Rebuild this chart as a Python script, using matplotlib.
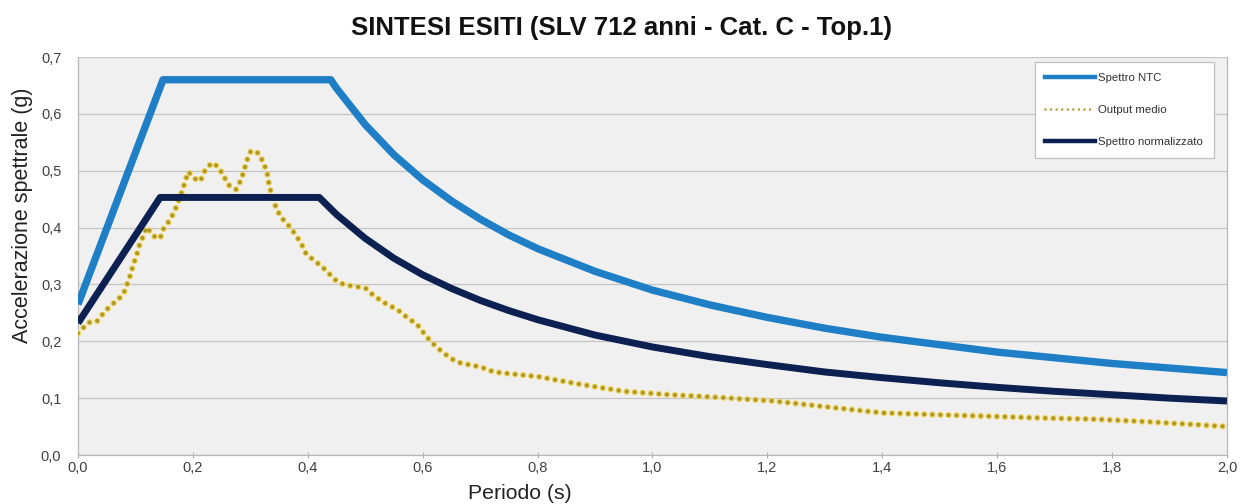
import matplotlib
matplotlib.use('Agg')
import matplotlib.pyplot as plt
from matplotlib.lines import Line2D
from matplotlib.ticker import FuncFormatter

# Spettro NTC (periodo s, accelerazione g)
ntc_t = [0.0, 0.148, 0.44, 0.45, 0.5, 0.55, 0.6, 0.65, 0.7, 0.75, 0.8, 0.9, 1.0,
         1.1, 1.2, 1.3, 1.4, 1.5, 1.6, 1.7, 1.8, 1.9, 2.0]
ntc_sa = [0.265, 0.66, 0.66, 0.645, 0.581, 0.528, 0.484, 0.447, 0.415, 0.387, 0.363,
          0.323, 0.290, 0.264, 0.242, 0.223, 0.207, 0.194, 0.181, 0.171, 0.161, 0.153, 0.145]

# Spettro normalizzato
norm_t = [0.0, 0.143, 0.42, 0.45, 0.5, 0.55, 0.6, 0.65, 0.7, 0.75, 0.8, 0.9, 1.0,
          1.1, 1.2, 1.3, 1.4, 1.5, 1.6, 1.7, 1.8, 1.9, 2.0]
norm_sa = [0.232, 0.453, 0.453, 0.423, 0.381, 0.346, 0.317, 0.293, 0.272, 0.254, 0.238,
           0.211, 0.190, 0.173, 0.159, 0.146, 0.136, 0.127, 0.119, 0.112, 0.106, 0.100, 0.095]

# Output medio
out_t = [0.0, 0.018, 0.033, 0.044, 0.056, 0.067, 0.079, 0.085, 0.091, 0.096, 0.102,
         0.107, 0.120, 0.131, 0.143, 0.149, 0.160, 0.169, 0.181, 0.186, 0.192, 0.207,
         0.213, 0.221, 0.233, 0.244, 0.253, 0.262, 0.275, 0.283, 0.289, 0.294, 0.301,
         0.314, 0.322, 0.329, 0.332, 0.336, 0.346, 0.358, 0.369, 0.381, 0.390, 0.397,
         0.410, 0.425, 0.438, 0.451, 0.465, 0.486, 0.501, 0.514, 0.531, 0.546, 0.561,
         0.575, 0.590, 0.600, 0.612, 0.625, 0.638, 0.654, 0.668, 0.686, 0.703, 0.724,
         0.76, 0.80, 0.87, 0.95, 1.03, 1.12, 1.21, 1.30, 1.40, 1.49, 1.59, 1.68, 1.77,
         1.87, 2.0]
out_sa = [0.214, 0.233, 0.235, 0.249, 0.262, 0.271, 0.283, 0.299, 0.316, 0.334, 0.351,
          0.369, 0.401, 0.385, 0.381, 0.398, 0.413, 0.431, 0.463, 0.480, 0.498, 0.483,
          0.482, 0.500, 0.514, 0.507, 0.492, 0.475, 0.467, 0.482, 0.500, 0.518, 0.535,
          0.531, 0.516, 0.498, 0.479, 0.462, 0.431, 0.413, 0.401, 0.384, 0.369, 0.354,
          0.343, 0.331, 0.318, 0.305, 0.299, 0.296, 0.293, 0.281, 0.269, 0.261, 0.252,
          0.240, 0.230, 0.217, 0.202, 0.189, 0.178, 0.167, 0.161, 0.158, 0.154, 0.146,
          0.142, 0.138, 0.125, 0.112, 0.106, 0.101, 0.095, 0.085, 0.074, 0.071, 0.068,
          0.065, 0.063, 0.058, 0.050]

x_ticks = [0.0, 0.2, 0.4, 0.6, 0.8, 1.0, 1.2, 1.4, 1.6, 1.8, 2.0]
y_ticks = [0.0, 0.1, 0.2, 0.3, 0.4, 0.5, 0.6, 0.7]

C_NTC = '#1f7fc6'
C_NORM = '#0c2152'
C_OUT = '#ad962a'
C_HALO = '#f0d45a'

plt.rcParams['font.family'] = ['Liberation Sans', 'DejaVu Sans']
plt.rcParams['lines.scale_dashes'] = False
narrow = ['Liberation Sans Narrow', 'Liberation Sans', 'DejaVu Sans']

fig = plt.figure(figsize=(12.4, 5.04), dpi=100)
ax = fig.add_axes([0.0629, 0.0972, 0.9266, 0.7897])
ax.set_facecolor('#f0f0f0')

ax.plot(ntc_t, ntc_sa, color=C_NTC, lw=5.3, solid_capstyle='butt', zorder=3)
ax.plot(out_t, out_sa, color=C_HALO, lw=4.6, dashes=(0.01, 5.8),
        dash_capstyle='round', zorder=3)
ax.plot(out_t, out_sa, color=C_OUT, lw=3.0, dashes=(0.01, 5.8),
        dash_capstyle='round', zorder=4)
ax.plot(norm_t, norm_sa, color=C_NORM, lw=5.0, solid_capstyle='butt', zorder=5)

ax.set_xlim(0, 2.0)
ax.set_ylim(0, 0.7)
ax.set_xticks(x_ticks)
ax.set_yticks(y_ticks)
comma = FuncFormatter(lambda v, p: ('%.1f' % v).replace('.', ','))
ax.xaxis.set_major_formatter(comma)
ax.yaxis.set_major_formatter(comma)
ax.tick_params(axis='x', direction='inout', length=5, width=0.8, color='#b0b0b0',
               labelsize=10.5, labelcolor='#404040', pad=2)
ax.tick_params(axis='y', length=0, labelsize=10.5, labelcolor='#404040', pad=12)
for lab in ax.get_xticklabels() + ax.get_yticklabels():
    lab.set_family(narrow)

ax.grid(axis='y', color='#c4c4c4', lw=0.9)
ax.set_axisbelow(True)
for s in ['left', 'bottom', 'right']:
    ax.spines[s].set_color('#b8b8b8')
    ax.spines[s].set_linewidth(0.9)
ax.spines['top'].set_visible(False)

fig.text(0.501, 0.944, 'SINTESI ESITI (SLV 712 anni - Cat. C - Top.1)',
         ha='center', va='center', fontsize=18.5, fontweight='bold', color='#111111')
fig.text(0.018, 0.573, 'Accelerazione spettrale (g)', rotation=90,
         ha='center', va='center', fontsize=15.5, color='#222222')
fig.text(0.419, 0.02, 'Periodo (s)', ha='center', va='center',
         fontsize=15.3, color='#222222')

handles = [
    Line2D([], [], color=C_NTC, lw=3.2),
    Line2D([], [], color=C_OUT, lw=1.8, dashes=(0.01, 4.0), dash_capstyle='round'),
    Line2D([], [], color=C_NORM, lw=3.2),
]
labels = ['Spettro NTC', 'Output medio', 'Spettro normalizzato']
leg = ax.legend(handles, labels, loc='upper right', bbox_to_anchor=(0.9887, 0.987),
                borderaxespad=0, frameon=True, fancybox=False, framealpha=1,
                edgecolor='#c0c0c0', facecolor='white', handlelength=4.4,
                handletextpad=0.25, labelspacing=1.95, borderpad=0.95,
                prop={'family': narrow, 'size': 8.2})
leg.get_frame().set_linewidth(0.9)
for t in leg.get_texts():
    t.set_color('#303030')

fig.savefig('out.png', dpi=100)
